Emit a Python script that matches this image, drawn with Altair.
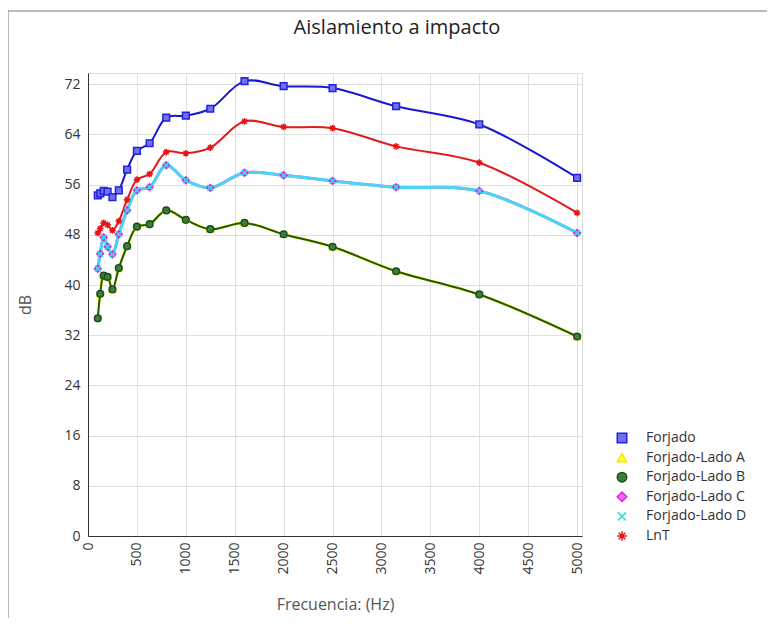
import altair as alt
import pandas as pd

freqs = [100, 125, 160, 200, 250, 315, 400, 500, 630, 800, 1000, 1250, 1600, 2000, 2500, 3150, 4000, 5000]
forjado = [54.3, 54.6, 55.0, 54.9, 54.0, 55.1, 58.4, 61.4, 62.6, 66.7, 67.0, 68.1, 72.5, 71.7, 71.4, 68.5, 65.6, 57.1]
lado_a = [34.7, 38.6, 41.5, 41.3, 39.3, 42.7, 46.2, 49.3, 49.7, 51.9, 50.4, 48.9, 49.9, 48.1, 46.1, 42.2, 38.5, 31.8]
lado_b = [34.7, 38.6, 41.5, 41.3, 39.3, 42.7, 46.2, 49.3, 49.7, 51.9, 50.4, 48.9, 49.9, 48.1, 46.1, 42.2, 38.5, 31.8]
lado_c = [42.6, 45.0, 47.6, 46.1, 44.9, 48.1, 51.9, 55.1, 55.6, 59.1, 56.7, 55.5, 57.9, 57.5, 56.6, 55.6, 55.0, 48.3]
lado_d = [42.6, 45.0, 47.6, 46.1, 44.9, 48.1, 51.9, 55.1, 55.6, 59.1, 56.7, 55.5, 57.9, 57.5, 56.6, 55.6, 55.0, 48.3]
lnt = [48.3, 49.0, 49.9, 49.6, 48.7, 50.2, 53.6, 56.8, 57.7, 61.2, 61.0, 61.9, 66.1, 65.2, 65.0, 62.1, 59.5, 51.5]

series_names = ["Forjado", "Forjado-Lado A", "Forjado-Lado B", "Forjado-Lado C", "Forjado-Lado D", "LnT"]
series_values = [forjado, lado_a, lado_b, lado_c, lado_d, lnt]
chart_title = "Aislamiento a impacto"

line_colors = ["#1818d4", "#ffff00", "#1f5a0a", "#ff33ff", "#48d6f4", "#e41a1a"]
line_widths = [2, 2.6, 2, 2.8, 3, 2]
stroke_colors = ["#2222dd", "#eeee00", "#1c4d1c", "#dd22dd", "#22e0e0", "#ee1111"]
fill_colors = ["#7070f0", "#ffff33", "#3d7d3d", "#ff66ff", "#22e0e0", "#ee1111"]
asterisk = "M-1,0L1,0M0,-1L0,1M-0.7,-0.7L0.7,0.7M-0.7,0.7L0.7,-0.7"
xmark = "M-0.85,-0.85L0.85,0.85M-0.85,0.85L0.85,-0.85"
shapes = ["square", "triangle-up", "circle", "diamond", xmark, asterisk]

rows = []
for name, vals in zip(series_names, series_values):
    for f, v in zip(freqs, vals):
        rows.append({"series": name, "freq": f, "db": v})
df = pd.DataFrame(rows)

FONT = "Open Sans"
W, H = 494, 463

x_enc = alt.X("freq:Q", scale=alt.Scale(domain=[0, 5050], nice=False),
              axis=alt.Axis(title="Frecuencia: (Hz)", values=list(range(0, 5001, 500)),
                            format="d", labelAngle=270, labelPadding=6, ticks=False,
                            titlePadding=22, titleFontSize=16, titleFontWeight="normal",
                            titleColor="#555555", labelColor="#333333", labelFontSize=14,
                            domainColor="#333333", gridColor="#e0e0e0", labelFont=FONT,
                            titleFont=FONT, labelFlush=False, labelOverlap=False))
y_enc = alt.Y("db:Q", scale=alt.Scale(domain=[0, 73.8], nice=False),
              axis=alt.Axis(title="dB", values=list(range(0, 73, 8)), ticks=False,
                            labelPadding=8, titlePadding=30, titleFontSize=16,
                            titleFontWeight="normal", titleColor="#555555",
                            labelColor="#333333", labelFontSize=14, domainColor="#333333",
                            gridColor="#e0e0e0", labelFont=FONT, titleFont=FONT))

legend = alt.Legend(title=None, orient="none", legendX=527, legendY=358,
                    labelFontSize=14, labelColor="#333333", labelFont=FONT,
                    symbolSize=90, rowPadding=3.6, labelOffset=17, symbolStrokeWidth=1.5,
                    padding=0)

base = alt.Chart(df)

lines = base.mark_line(interpolate="catmull-rom").encode(
    x=x_enc, y=y_enc,
    color=alt.Color("series:N", scale=alt.Scale(range=line_colors), legend=None),
    strokeWidth=alt.StrokeWidth("series:N", scale=alt.Scale(type="ordinal", range=line_widths), legend=None),
)

points = base.mark_point(opacity=1, strokeWidth=1.5, size=45).encode(
    x=x_enc, y=y_enc,
    stroke=alt.Stroke("series:N", scale=alt.Scale(domain=series_names, range=stroke_colors), legend=legend),
    fill=alt.Fill("series:N", scale=alt.Scale(domain=series_names, range=fill_colors), legend=legend),
    shape=alt.Shape("series:N", scale=alt.Scale(domain=series_names, range=shapes), legend=legend),
)

one = alt.Data(values=[{"k": 1}])
frame_left = alt.Chart(one).mark_rule(color="#777777", strokeWidth=1).encode(
    x=alt.value(-80), y=alt.value(-62), y2=alt.value(560))
frame_top = alt.Chart(one).mark_rule(color="#777777", strokeWidth=1).encode(
    x=alt.value(-80), x2=alt.value(700), y=alt.value(-62))
title_text = alt.Chart(one).mark_text(fontSize=20, font=FONT, color="#222222",
                                      align="center", baseline="middle").encode(
    x=alt.value(309), y=alt.value(-45), text=alt.value(chart_title))

chart = alt.layer(lines, points, frame_left, frame_top, title_text).properties(
    width=W, height=H,
    autosize=alt.AutoSizeParams(type="none"),
    padding={"left": 80, "top": 65, "right": 185, "bottom": 82},
).configure_view(stroke=None).configure(background="white")

chart.save("out.html", embed_options={"renderer": "svg", "actions": False})
